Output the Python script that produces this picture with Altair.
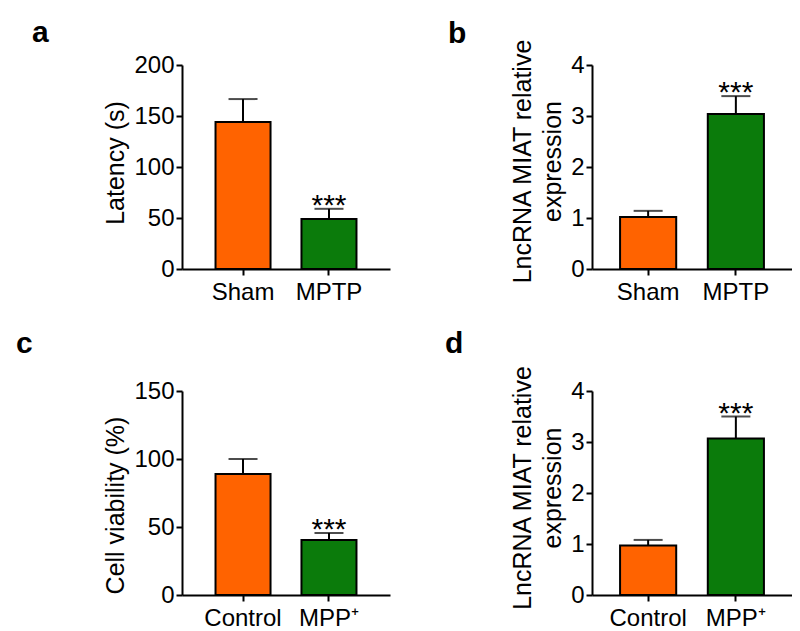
import altair as alt
import pandas as pd

FONT = "Arial, Liberation Sans, Helvetica, sans-serif"
ORANGE = "#ff6300"
GREEN = "#0b7b0b"

# ---- data ----
groups_ab = ["Sham", "MPTP"]
groups_cd = ["Control", "MPP\u207a"]
kinds = ["control", "treated"]
significance = ["", "***"]

latency_mean = [144, 49]
latency_err = [22.6, 10]

miat_mptp_mean = [1.02, 3.04]
miat_mptp_err = [0.12, 0.35]

viability_mean = [89, 40.4]
viability_err = [11, 5.2]

miat_mpp_mean = [0.97, 3.07]
miat_mpp_err = [0.11, 0.43]

ticks_latency = [0, 50, 100, 150, 200]
ticks_miat = [0, 1, 2, 3, 4]
ticks_viability = [0, 50, 100, 150]


def panel(letter, groups, means, errs, ymax, yticks, ytitle, width,
          pad_outer, letter_dx, letter_dy, title_y):
    df = pd.DataFrame({"group": groups, "kind": kinds, "mean": means,
                       "err": errs, "sig": significance})
    df["top"] = df["mean"] + df["err"]

    x = alt.X("group:N", sort=groups,
              scale=alt.Scale(paddingInner=0.36, paddingOuter=pad_outer),
              axis=alt.Axis(title=None, labelAngle=0, tickSize=6,
                            labelPadding=5))
    yscale = alt.Scale(domain=[0, ymax], nice=False, zero=True)
    yaxis = alt.Axis(title=ytitle, values=yticks, format="d", tickSize=6,
                     labelPadding=2, titlePadding=5, titleY=title_y,
                     titleLineHeight=30)

    base = alt.Chart(df)
    bars = base.mark_bar(stroke="black", strokeWidth=2).encode(
        x=x,
        y=alt.Y("mean:Q", scale=yscale, axis=yaxis),
        color=alt.Color("kind:N", scale=alt.Scale(domain=kinds,
                        range=[ORANGE, GREEN]), legend=None),
    )
    stems = base.mark_rule(color="black", strokeWidth=2).encode(
        x=x,
        y=alt.Y("mean:Q", scale=yscale, axis=yaxis),
        y2="top:Q",
    )
    caps = base.mark_tick(color="black", thickness=2, size=29).encode(
        x=x,
        y=alt.Y("top:Q", scale=yscale, axis=yaxis),
    )
    stars = base.mark_text(font=FONT, fontSize=30, color="black",
                           baseline="alphabetic", dy=6).encode(
        x=x,
        y=alt.Y("top:Q", scale=yscale, axis=yaxis),
        text="sig:N",
    )
    return alt.layer(stems, bars, caps, stars).properties(
        width=width, height=204,
        title=alt.TitleParams(letter, anchor="start", frame="group",
                              dx=letter_dx, dy=letter_dy, offset=0,
                              baseline="alphabetic", fontSize=30,
                              fontWeight="bold", font=FONT, color="black"),
    )


miat_title = ["LncRNA MIAT relative", "expression"]

pa = panel("a", groups_ab, latency_mean, latency_err, 200, ticks_latency,
           "Latency (s)", 208, 0.39, -150, 19, 97.5)
pb = panel("b", groups_ab, miat_mptp_mean, miat_mptp_err, 4, ticks_miat,
           miat_title, 200, 0.32, -144, 35, 96)
pc = panel("c", groups_cd, viability_mean, viability_err, 150,
           ticks_viability, "Cell viability (%)", 208, 0.39, -166, 4, 114)
pd_ = panel("d", groups_cd, miat_mpp_mean, miat_mpp_err, 4, ticks_miat,
            miat_title, 200, 0.32, -147, 18, 96.5)

chart = alt.concat(pa, pb, pc, pd_, columns=2,
                   spacing={"row": 122, "column": 202},
                   bounds="flush").properties(
    padding={"left": 8, "top": 10, "right": 0, "bottom": 0},
    background="white",
).configure_view(stroke=None).configure_axis(
    domainColor="black", domainWidth=2, tickColor="black", tickWidth=2,
    labelColor="black", titleColor="black", labelFont=FONT, titleFont=FONT,
    labelFontSize=24, titleFontSize=25, titleFontWeight="normal", grid=False,
)

chart.save("out.html", embed_options={"renderer": "svg", "actions": False})
